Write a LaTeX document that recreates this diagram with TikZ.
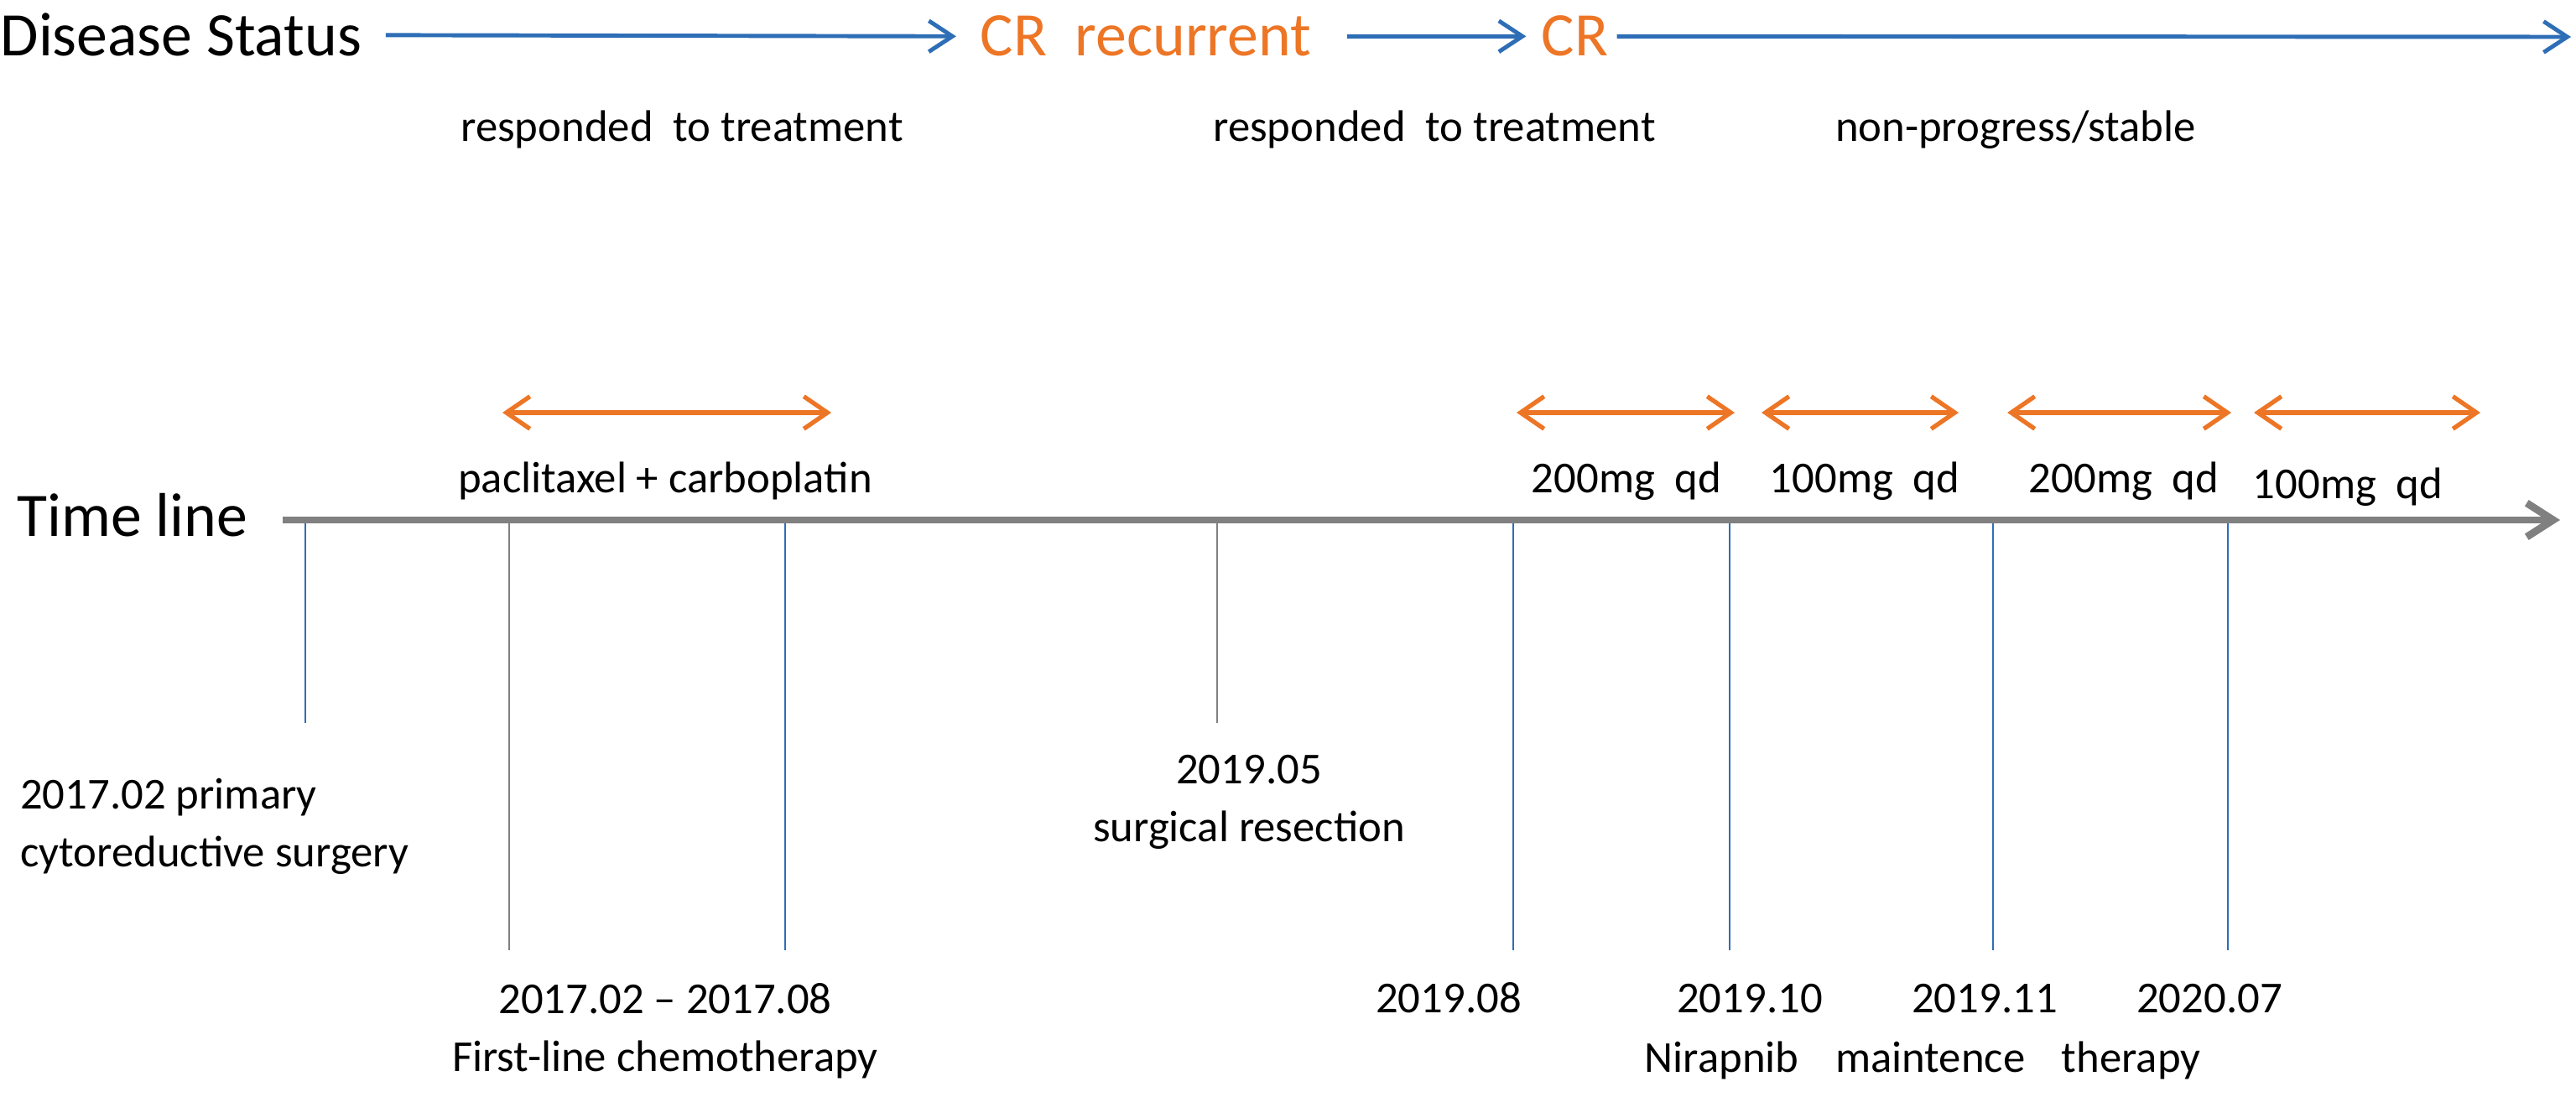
\documentclass[tikz,border=0pt]{standalone}
\usepackage{fontspec}
\setmainfont{Carlito}
\usetikzlibrary{arrows.meta}
\definecolor{statusblue}{RGB}{46,110,182}
\definecolor{doseorange}{RGB}{237,118,38}
\definecolor{axisgray}{RGB}{128,128,128}
\begin{document}
\begin{tikzpicture}[
	bigtext/.style={inner sep=0pt,font=\fontsize{21}{25}\selectfont},
	smalltext/.style={inner sep=0pt,font=\fontsize{15}{19.5}\selectfont},
	statusarrow/.style={statusblue,line width=1.4pt,-{Straight Barb[length=8pt,width=10.5pt]}},
	dosearrow/.style={doseorange,line width=1.5pt,{Straight Barb[length=8pt,width=11pt]}-{Straight Barb[length=8pt,width=11pt]}},
	tickline/.style={line width=0.7pt}]
	%
	% Cadre
	\useasboundingbox (0,0) rectangle (30.71,13.07);
	%
	% Disease status
	\node[bigtext,anchor=base west] (status) at (0,12.40) {Disease Status};
	\node[bigtext,anchor=base west,doseorange] (recur) at (11.68,12.40) {CR~ recurrent};
	\node[bigtext,anchor=base west,doseorange] (cr) at (18.37,12.40) {CR};
	\coordinate (statusend) at (30.65,12.63);
	\draw[statusarrow] ([xshift=8pt]status.east) -- ([xshift=-8pt]recur.west);
	\draw[statusarrow] ([xshift=12pt]recur.east) -- ([xshift=-5pt]cr.west);
	\draw[statusarrow] ([xshift=2.8pt]cr.east) -- (statusend);
	\node[smalltext,anchor=base] (resp1) at (8.13,11.38) {responded~ to treatment};
	\node[smalltext,anchor=base] (resp2) at (17.10,11.38) {responded~ to treatment};
	\node[smalltext,anchor=base] (stable) at (24.03,11.38) {non-progress/stable};
	%
	% Traitements
	\foreach \xa/\xb [count=\i] in {5.99/9.91,18.08/20.68,21.00/23.35,23.93/26.60,26.87/29.57}{
		\coordinate (dl\i) at (\xa,8.15);
		\coordinate (dr\i) at (\xb,8.15);
		\draw[dosearrow] (dl\i) -- (dr\i);
	}
	\node[smalltext,anchor=base] (chemo) at (7.93,7.19) {paclitaxel + carboplatin};
	\node[smalltext,anchor=base] (dose1) at (19.39,7.19) {200mg~ qd};
	\node[smalltext,anchor=base] (dose2) at (22.23,7.19) {100mg~ qd};
	\node[smalltext,anchor=base] (dose3) at (25.32,7.19) {200mg~ qd};
	\node[smalltext,anchor=base] (dose4) at (27.99,7.12) {100mg~ qd};
	%
	% Axe du temps
	\node[bigtext,anchor=base west] (timeline) at (0.20,6.68) {Time line};
	\foreach \tx/\tc/\ty [count=\i] in {3.64/statusblue/4.45,6.07/axisgray/1.74,9.36/statusblue/1.74,14.51/axisgray/4.45,18.04/statusblue/1.74,20.62/statusblue/1.74,23.76/statusblue/1.74,26.56/statusblue/1.74}{
		\coordinate (top\i) at (\tx,6.87);
		\coordinate (bot\i) at (\tx,\ty);
		\draw[tickline,draw=\tc] (top\i) -- (bot\i);
	}
	\coordinate (axisstart) at (3.37,6.87);
	\coordinate (axisend) at (30.52,6.87);
	\draw[axisgray,line width=2.5pt,-{Straight Barb[length=9pt,width=11.5pt]}] (axisstart) -- (axisend);
	%
	% Dates
	\node[smalltext,anchor=base west,align=left] (surgery) at (0.235,2.74) {2017.02 primary\\cytoreductive surgery};
	\node[smalltext,anchor=base,align=center] (resection) at (14.89,3.04) {2019.05\\surgical resection};
	\node[smalltext,anchor=base,align=center] (firstline) at (7.93,0.30) {2017.02 -- 2017.08\\First-line chemotherapy};
	\node[smalltext,anchor=base] (d1908) at (17.27,1.00) {2019.08};
	\node[smalltext,anchor=base] (d1910) at (20.86,1.00) {2019.10};
	\node[smalltext,anchor=base] (d1911) at (23.66,1.00) {2019.11};
	\node[smalltext,anchor=base] (d2007) at (26.34,1.00) {2020.07};
	\node[smalltext,anchor=base] (nirap) at (22.92,0.29) {Nirapnib\hspace{0.6em} maintence\hspace{0.6em} therapy};
\end{tikzpicture}
\end{document}
